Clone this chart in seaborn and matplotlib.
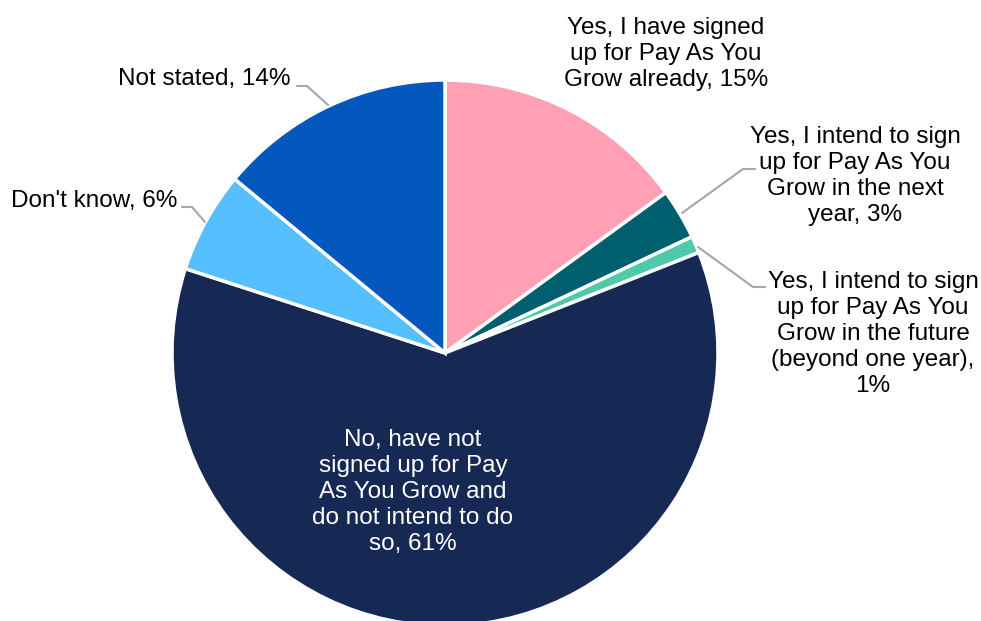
import matplotlib
matplotlib.use("Agg")
import matplotlib.pyplot as plt
import seaborn as sns

# Antworten zu "Pay As You Grow" (Anteile in %)
labels = [
    "Yes, I have signed\nup for Pay As You\nGrow already, 15%",
    "Yes, I intend to sign\nup for Pay As You\nGrow in the next\nyear, 3%",
    "Yes, I intend to sign\nup for Pay As You\nGrow in the future\n(beyond one year),\n1%",
    "No, have not\nsigned up for Pay\nAs You Grow and\ndo not intend to do\nso, 61%",
    "Don't know, 6%",
    "Not stated, 14%",
]
shares = [15, 3, 1, 61, 6, 14]
colors = ["#FFA0B4", "#005F6E", "#4FC9A8", "#162955", "#55BFFF", "#0457BD"]

sns.set_style("white")
plt.rcParams["font.family"] = ["Liberation Sans", "DejaVu Sans"]
plt.rcParams["text.color"] = "black"

fig = plt.figure(figsize=(9.81, 6.21), dpi=100)
ax = fig.add_axes([0, 0, 1, 1])

ax.pie(shares, colors=sns.color_palette(colors), center=(445, 353), radius=273,
       startangle=-90, counterclock=True, frame=True,
       wedgeprops=dict(edgecolor="white", linewidth=2.5))
ax.set_xlim(0, 981)
ax.set_ylim(621, 0)  # Pixelkoordinaten, y nach unten
ax.set_aspect("equal")
ax.axis("off")

# Beschriftungen
fs = 17.5
ls = 1.24
lc = "#A6A6A6"
ax.text(666, 54, labels[0], ha="center", va="center", fontsize=fs, linespacing=ls)
ax.text(855, 176, labels[1], ha="center", va="center", fontsize=fs, linespacing=ls)
ax.text(873, 334, labels[2], ha="center", va="center", fontsize=fs, linespacing=ls)
ax.text(413, 492, labels[3], ha="center", va="center", fontsize=fs, linespacing=ls,
        color="white")
ax.text(177, 201, labels[4], ha="right", va="center", fontsize=fs)
ax.text(290, 79, labels[5], ha="right", va="center", fontsize=fs)

# Führungslinien
ax.plot([755, 743, 682], [169, 169, 213], color=lc, lw=1.5)
ax.plot([765, 753, 698], [287, 287, 247], color=lc, lw=1.5)
ax.plot([182, 192, 205], [207, 207, 222], color=lc, lw=1.5)
ax.plot([297, 307, 328], [86, 86, 105], color=lc, lw=1.5)

fig.savefig("out.png", dpi=100)
